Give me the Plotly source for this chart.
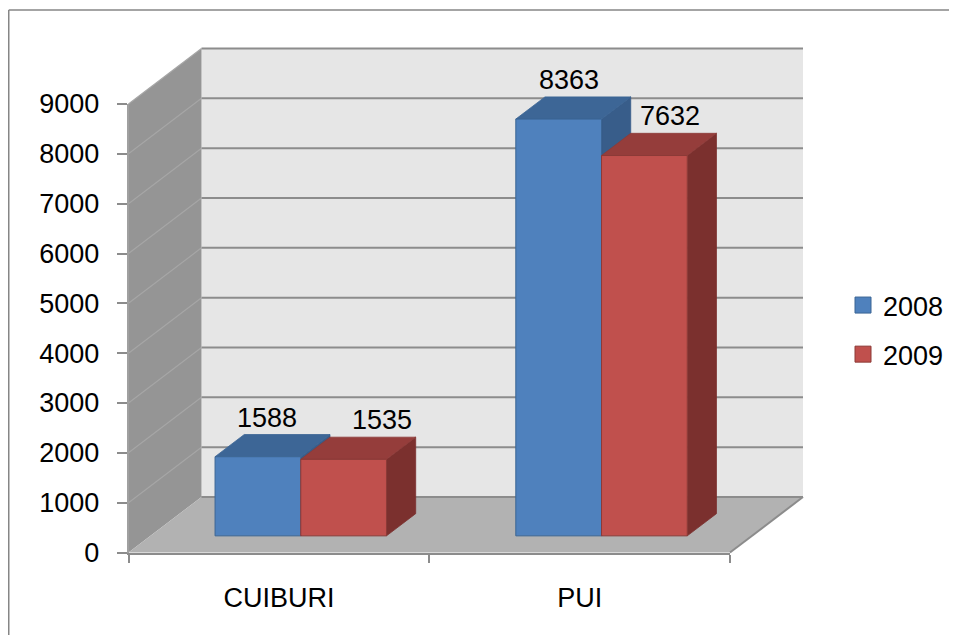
import plotly.graph_objects as go

# ---------------- data ----------------
CATEGORIES = ["CUIBURI", "PUI"]
SERIES = ["2008", "2009"]
VALUES_2008 = [1588, 8363]
VALUES_2009 = [1535, 7632]
Y_TICKS = [0, 1000, 2000, 3000, 4000, 5000, 6000, 7000, 8000, 9000]
Y_MAX = 9000

SERIES_VALUES = [VALUES_2008, VALUES_2009]

# ---------------- style / layout ----------------
PAGE_OFF = 8                       # default body margin of the html page
W, H = 957 - 2 * PAGE_OFF, 643 - 2 * PAGE_OFF   # fit the page without overflow
FONT = "Liberation Sans Narrow, Arial Narrow, Liberation Sans, Arial, sans-serif"
FS = 27
FRONT_LEFT_PX, FRONT_RIGHT_PX = 128.5 - PAGE_OFF, 730.0 - PAGE_OFF
ZERO_PX, TOP_PX = 552.5 - PAGE_OFF, 104.0 - PAGE_OFF
DEPTH_DX_PX, DEPTH_DY_PX = 73.0, 55.5

BAR_W = 0.285          # width of one bar in category units
D0, D1 = 0.30, 0.70    # depth range of bars

STYLES = [
    dict(front="#4f81bd", top="#3d6696", side="#385d8a", edge="#3b6594"),
    dict(front="#c0504d", top="#953d3b", side="#7b302e", edge="#8c3a37"),
]
LABEL_XSHIFT = [[-20, -19], [9, -4]]
LABEL_YSHIFT = 17

px_per_cat = (FRONT_RIGHT_PX - FRONT_LEFT_PX) / len(CATEGORIES)
px_per_val = (ZERO_PX - TOP_PX) / Y_MAX
x_lo = -0.5 - FRONT_LEFT_PX / px_per_cat
x_hi = len(CATEGORIES) - 0.5 + (W - FRONT_RIGHT_PX) / px_per_cat
y_lo = -(H - ZERO_PX) / px_per_val
y_hi = ZERO_PX / px_per_val
DX = DEPTH_DX_PX / px_per_cat
DY = DEPTH_DY_PX / px_per_val


def P(x, v, d):
    return (x + d * DX, v + d * DY)


fig = go.Figure()


def poly(pts, fill, line=None, width=0):
    xs = [p[0] for p in pts] + [pts[0][0]]
    ys = [p[1] for p in pts] + [pts[0][1]]
    fig.add_trace(go.Scatter(
        x=xs, y=ys, mode="lines", fill="toself", fillcolor=fill,
        line=dict(color=line or fill, width=width),
        hoverinfo="skip", showlegend=False))


def seg(a, b, color, width):
    fig.add_trace(go.Scatter(
        x=[a[0], b[0]], y=[a[1], b[1]], mode="lines",
        line=dict(color=color, width=width),
        hoverinfo="skip", showlegend=False))


XL, XR = -0.5, len(CATEGORIES) - 0.5

# back wall
poly([P(XL, 0, 1), P(XR, 0, 1), P(XR, Y_MAX, 1), P(XL, Y_MAX, 1)], "#e6e6e6")
# side wall
poly([P(XL, 0, 0), P(XL, 0, 1), P(XL, Y_MAX, 1), P(XL, Y_MAX, 0)], "#959595")
# gridlines
for v in Y_TICKS:
    seg(P(XL, v, 1), P(XR, v, 1), "#8c8c8c", 2)
    if v > 0:
        seg(P(XL, v, 0), P(XL, v, 1), "#a6a6a6", 1.2)
# floor
poly([P(XL, 0, 0), P(XR, 0, 0), P(XR, 0, 1), P(XL, 0, 1)], "#b2b2b2")
seg(P(XR, 0, 0), P(XR, 0, 1), "#8c8c8c", 2)
seg(P(XL, 0, 1), P(XR, 0, 1), "#8c8c8c", 2)

# bars
for ci, cat in enumerate(CATEGORIES):
    for si, vals in enumerate(SERIES_VALUES):
        st = STYLES[si]
        v = vals[ci]
        xl = ci - BAR_W + si * BAR_W
        xr = xl + BAR_W
        poly([P(xr, 0, D0), P(xr, 0, D1), P(xr, v, D1), P(xr, v, D0)], st["side"], st["side"], 0.8)
        poly([P(xl, v, D0), P(xr, v, D0), P(xr, v, D1), P(xl, v, D1)], st["top"], st["edge"], 0.8)
        poly([P(xl, 0, D0), P(xr, 0, D0), P(xr, v, D0), P(xl, v, D0)], st["front"], st["edge"], 1)
        bx, by = P((xl + xr) / 2, v, D1)
        fig.add_annotation(x=bx, y=by, xref="x", yref="y", text=str(v),
                           showarrow=False, xanchor="center", yanchor="middle",
                           xshift=LABEL_XSHIFT[si][ci], yshift=LABEL_YSHIFT,
                           font=dict(family=FONT, size=FS, color="#000000"))

# legend entries
for si, name in enumerate(SERIES):
    st = STYLES[si]
    fig.add_trace(go.Scatter(
        x=[None], y=[None], mode="markers", name=name, legendgroup=name,
        marker=dict(symbol="square", size=16, color=st["front"],
                    line=dict(color=st["edge"], width=1)),
        hoverinfo="skip", showlegend=True))

# tick axes trace
fig.add_trace(go.Scatter(x=CATEGORIES, y=[None, None], xaxis="x2", yaxis="y2",
                         mode="markers", hoverinfo="skip", showlegend=False))

BORDER_TOP = (H - (10 - PAGE_OFF)) / H
BORDER_LEFT = 0.75 / W

fig.update_layout(
    width=W, height=H,
    margin=dict(l=0, r=0, t=0, b=0),
    paper_bgcolor="#ffffff",
    plot_bgcolor="rgba(0,0,0,0)",
    font=dict(family=FONT, size=FS, color="#000000"),
    xaxis=dict(domain=[0, 1], range=[x_lo, x_hi], visible=False, fixedrange=True),
    yaxis=dict(domain=[0, 1], range=[y_lo, y_hi], visible=False, fixedrange=True),
    xaxis2=dict(domain=[FRONT_LEFT_PX / W, FRONT_RIGHT_PX / W], anchor="y2",
                type="category", categoryorder="array", categoryarray=CATEGORIES,
                range=[-0.5, len(CATEGORIES) - 0.5], tickson="boundaries",
                ticks="outside", ticklen=8, tickwidth=2, tickcolor="#8c8c8c",
                showline=True, linecolor="#8c8c8c", linewidth=2,
                showgrid=False, zeroline=False, automargin=False,
                ticklabelstandoff=20,
                tickfont=dict(family=FONT, size=FS, color="#000000")),
    yaxis2=dict(domain=[(H - ZERO_PX) / H, (H - TOP_PX) / H], anchor="x2",
                range=[0, Y_MAX], tickvals=Y_TICKS,
                ticks="outside", ticklen=10, tickwidth=2, tickcolor="#8c8c8c",
                showline=True, linecolor="#a0a0a0", linewidth=1.5,
                showgrid=False, zeroline=False, automargin=False,
                ticklabelstandoff=12,
                tickfont=dict(family=FONT, size=FS, color="#000000")),
    legend=dict(x=(843 - PAGE_OFF) / W, y=(H - (281 - PAGE_OFF)) / H,
                xanchor="left", yanchor="top",
                bgcolor="rgba(0,0,0,0)", borderwidth=0, tracegroupgap=11,
                font=dict(family=FONT, size=FS, color="#000000")),
    shapes=[
        dict(type="line", xref="paper", yref="paper",
             x0=BORDER_LEFT, x1=1.0, y0=BORDER_TOP, y1=BORDER_TOP,
             line=dict(color="#868686", width=1.5), layer="above"),
        dict(type="line", xref="paper", yref="paper",
             x0=BORDER_LEFT, x1=BORDER_LEFT, y0=0.0, y1=BORDER_TOP,
             line=dict(color="#868686", width=1.5), layer="above"),
    ],
    showlegend=True,
)

fig.write_html("out.html")
